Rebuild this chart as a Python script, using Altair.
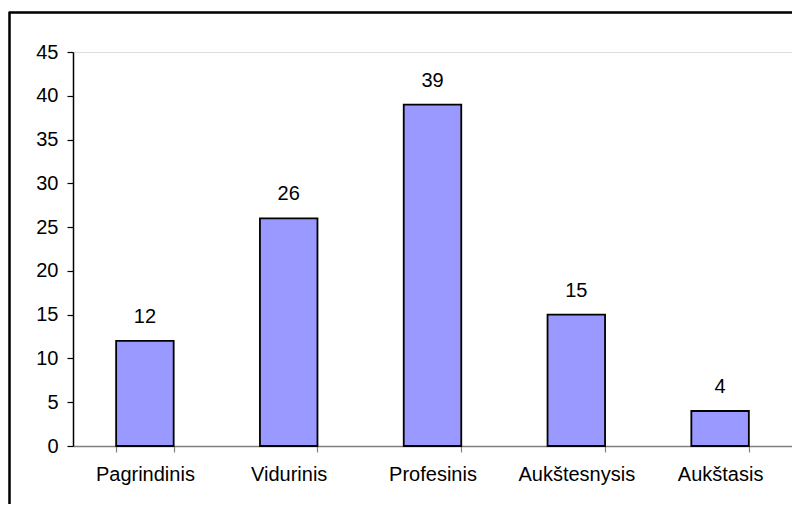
import altair as alt
import pandas as pd

categories = ["Pagrindinis", "Vidurinis", "Profesinis", "Aukštesnysis", "Aukštasis"]
values = [12, 26, 39, 15, 4]
y_ticks = [0, 5, 10, 15, 20, 25, 30, 35, 40, 45]

df = pd.DataFrame({"cat": categories, "val": values})

FONT = "Liberation Sans"
FS = 20

x_enc = alt.X("cat:N", sort=categories,
              scale=alt.Scale(paddingInner=0.6, paddingOuter=0.3),
              axis=alt.Axis(title=None, labelAngle=0, labelFont=FONT, labelFontSize=FS,
                            labelColor="#000000", labelPadding=12, tickBand="extent",
                            domainColor="#808080", tickColor="#808080", tickSize=6,
                            domainWidth=1.5, tickWidth=1.2, grid=False))
y_enc = alt.Y("val:Q", scale=alt.Scale(domain=[0, 45], nice=False),
              axis=alt.Axis(title=None, values=y_ticks, labelFont=FONT, labelFontSize=FS,
                            labelColor="#000000", labelPadding=9, domainColor="#000000",
                            tickColor="#000000", tickSize=6, domainWidth=1.5, tickWidth=1.2,
                            grid=False))

bars = alt.Chart(df).mark_bar(color="#9999FF", stroke="#000000", strokeWidth=1.8).encode(
    x=x_enc, y=y_enc)

labels = alt.Chart(df).mark_text(font=FONT, fontSize=FS, baseline="bottom", dy=-14,
                                 color="#000000").encode(
    x=alt.X("cat:N", sort=categories), y="val:Q", text="val:Q")

border = alt.Chart(df).mark_rect(fill=None, stroke="#000000", strokeWidth=1.5,
                                 clip=False).encode(
    x=alt.value(-63.5), x2=alt.value(760), y=alt.value(-39.5), y2=alt.value(480))

chart = alt.layer(border, bars, labels).properties(
    width=719, height=394,
    autosize=alt.AutoSizeParams(type="none"),
    padding={"left": 65, "top": 44, "right": 0, "bottom": 58},
).configure_view(stroke=None).configure(background="#ffffff")

chart.save("out.html", embed_options={"renderer": "svg", "actions": False})
